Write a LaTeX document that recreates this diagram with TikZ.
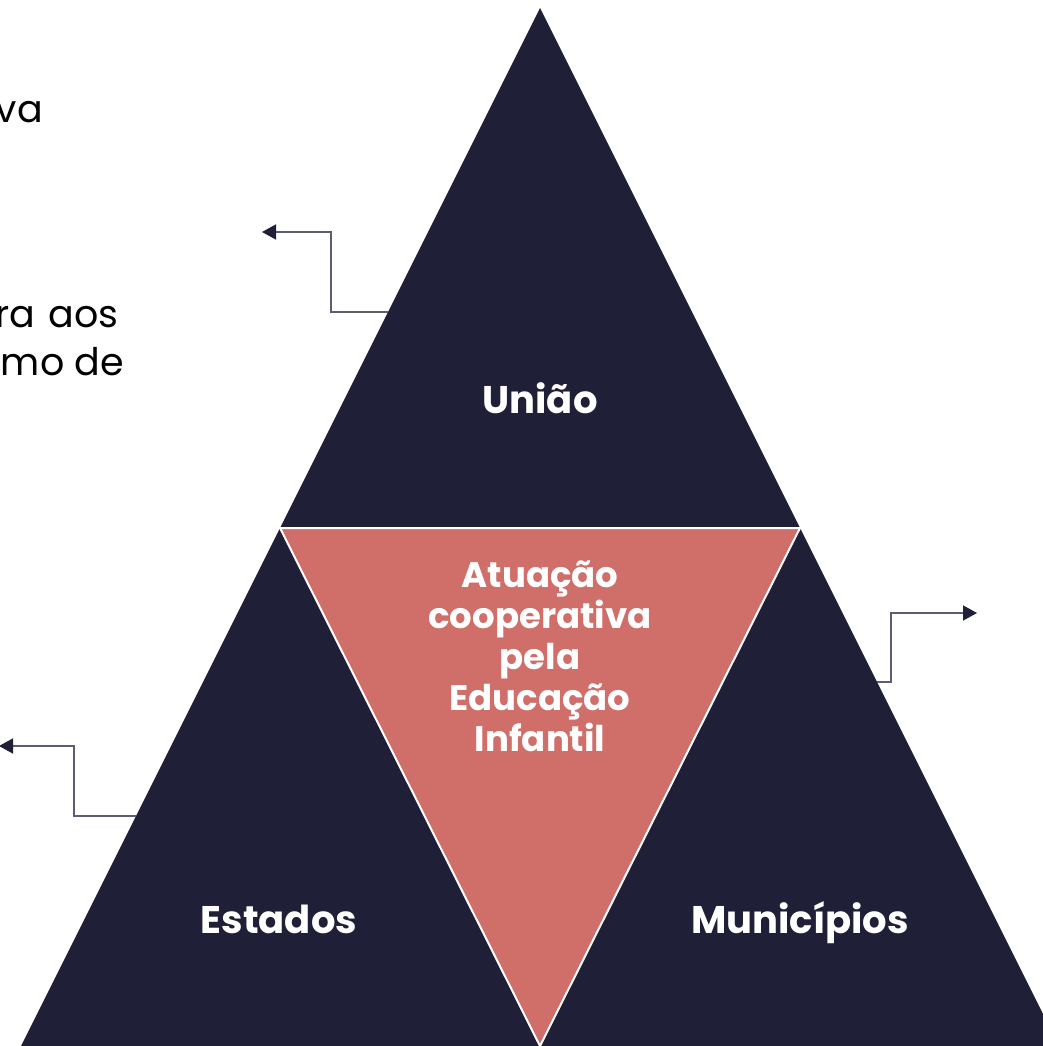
\documentclass[tikz,border=0pt]{standalone}
\usepackage{fontspec}
\setmainfont{Poppins}
\usetikzlibrary{arrows.meta}
\definecolor{navy}{HTML}{1F1F37}
\definecolor{salmon}{HTML}{D06E69}
\definecolor{conn}{HTML}{5C5C74}
\begin{document}
\begin{tikzpicture}[x=1pt,y=-1pt,
  darktri/.style={fill=navy},
  midtri/.style={fill=salmon,draw=white,line width=2pt,line join=miter},
  lbl/.style={text=white,font=\bfseries\fontsize{38.5}{44}\selectfont,align=center,inner sep=0pt,anchor=base},
  midlbl/.style={text=white,font=\bfseries\fontsize{35.5}{41}\selectfont,align=center,inner sep=0pt,anchor=base},
  side/.style={text=black,font=\fontsize{38}{46}\selectfont,inner sep=0pt,anchor=base east},
  conline/.style={draw=conn,line width=1.4pt,-{Triangle[length=14pt,width=15pt,fill=navy,color=navy]}}]
\useasboundingbox (0,0) rectangle (1043,1046);
\fill[white] (0,0) rectangle (1043,1046);
% triangles
\fill[darktri] (540,8) -- (280,528) -- (800,528) -- cycle;
\fill[darktri] (280,528) -- (21,1046) -- (540,1046) -- cycle;
\fill[darktri] (800,528) -- (540,1046) -- (1059,1046) -- cycle;
\filldraw[midtri] (280,528) -- (800,528) -- (540,1046) -- cycle;
% labels
\node[lbl] (uniao) at (540,413) {União};
\node[lbl] (estados) at (279,933) {Estados};
\node[lbl] (municipios) at (800,933) {Municípios};
\node[midlbl] (centro) at (540,751) {Atuação\\cooperativa\\pela\\Educação\\Infantil};
% cut-off side texts
\node[side] (t1) at (43,123) {va};
\node[side] (t2) at (119,327) {ra\hspace{14pt}aos};
\node[side] (t3) at (124,375) {mo de};
% connectors
\coordinate (s1) at (388,312);
\coordinate (e1) at (262,232);
\coordinate (s2) at (877,682);
\coordinate (e2) at (977,613);
\coordinate (s3) at (136,816);
\coordinate (e3) at (-1,746);
\draw[conline] (s1) -- (331,312) -- (331,232) -- (e1);
\draw[conline] (s2) -- (891,682) -- (891,613) -- (e2);
\draw[conline] (s3) -- (74,816) -- (74,746) -- (e3);
\end{tikzpicture}
\end{document}
